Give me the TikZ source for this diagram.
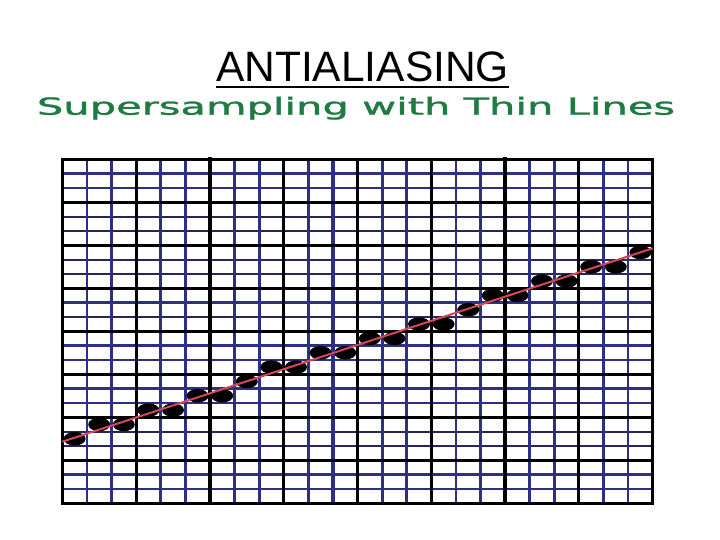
\documentclass[tikz,border=0pt]{standalone}
\usepackage{fontspec}
\usetikzlibrary{shapes.geometric}
\newfontfamily\titlefont{Liberation Sans}
\newfontfamily\subfont[FakeBold=1.2]{DejaVu Sans}
\definecolor{navy}{RGB}{45,48,130}
\definecolor{darknavy}{RGB}{38,38,90}
\definecolor{subgreen}{RGB}{32,122,68}
\definecolor{redline}{RGB}{215,70,85}
\begin{document}
\begin{tikzpicture}[x=1bp,y=-1bp,
  navyline/.style={draw=navy},
  darkline/.style={draw=darknavy},
  gridblack/.style={draw=black,line cap=rect},
  dotnode/.style={ellipse,fill=black,draw=none,inner sep=0pt,minimum width=22bp,minimum height=13.5bp},
  redstroke/.style={draw=redline,line width=2bp}]
\useasboundingbox (0,0) rectangle (720,540);
\def\gx{62.3}\def\gy{159.3}\def\cw{24.6}\def\ch{14.333}
\pgfmathsetmacro{\gr}{\gx+24*\cw}
\pgfmathsetmacro{\gb}{\gy+24*\ch}
% title
\node[anchor=base,inner sep=0pt,font=\titlefont\fontsize{42.5bp}{50bp}\selectfont] (title) at (362.5,81.7) {ANTIALIASING};
\draw[line width=2.4bp] ([yshift=-5.3bp]title.base west) -- ([yshift=-5.3bp]title.base east);
% subtitle
\node[anchor=base west,inner sep=0pt,text=subgreen] (sub) at (36.7,114.7)
  {\resizebox{638bp}{\height}{\subfont\fontsize{23.5bp}{26bp}\selectfont Supersampling with Thin Lines}};
% horizontal intermediate lines
\foreach \j/\w/\s in {1/2.8/navyline,2/2.4/navyline,4/1.8/darkline,5/1.8/darkline,7/1.8/darkline,8/1.8/darkline,
  10/2.4/navyline,11/1.8/darkline,13/2.4/navyline,14/2.4/navyline,16/2.4/navyline,17/2.8/navyline,
  19/1.8/darkline,20/1.8/darkline,22/2.4/navyline,23/2/navyline}
  \draw[\s,line width=\w bp] (\gx,\gy+\j*\ch) -- (\gr,\gy+\j*\ch);
% vertical intermediate lines
\foreach \i/\w in {1/2.6,2/3.2,4/2.8,5/2.6,7/2.6,8/3,10/2.6,11/3.2,13/2.8,14/2.6,16/2.8,17/3,19/3,20/2.6,22/3,23/2.6}
  \draw[navyline,line width=\w bp] (\gx+\i*\cw,\gy) -- (\gx+\i*\cw,\gb);
% black lines
\foreach \j/\w in {0/2.6,3/3.4,6/2.6,9/3.4,12/2.6,15/3.4,18/2.6,21/3.4,24/3}
  \draw[gridblack,line width=\w bp] (\gx,\gy+\j*\ch) -- (\gr,\gy+\j*\ch);
\foreach \i/\w in {0/3.4,3/3,6/3.8,9/3,12/3.2,15/3,18/3.6,21/3,24/3.4}
  \draw[gridblack,line width=\w bp] (\gx+\i*\cw,\gy) -- (\gx+\i*\cw,\gb);
% dots
\foreach \i/\j in {0/19,1/18,2/18,3/17,4/17,5/16,6/16,7/15,8/14,9/14,10/13,11/13,12/12,13/12,
  14/11,15/11,16/10,17/9,18/9,19/8,20/8,21/7,22/7,23/6}
  \node[dotnode] (d\i) at (\gx+\i*\cw+0.5*\cw,\gy+\j*\ch+0.5*\ch) {};
% red line
\coordinate (ls) at (\gx,441.7);
\coordinate (le) at (\gr,248.3);
\draw[redstroke] (ls) -- (le);
\end{tikzpicture}
\end{document}
